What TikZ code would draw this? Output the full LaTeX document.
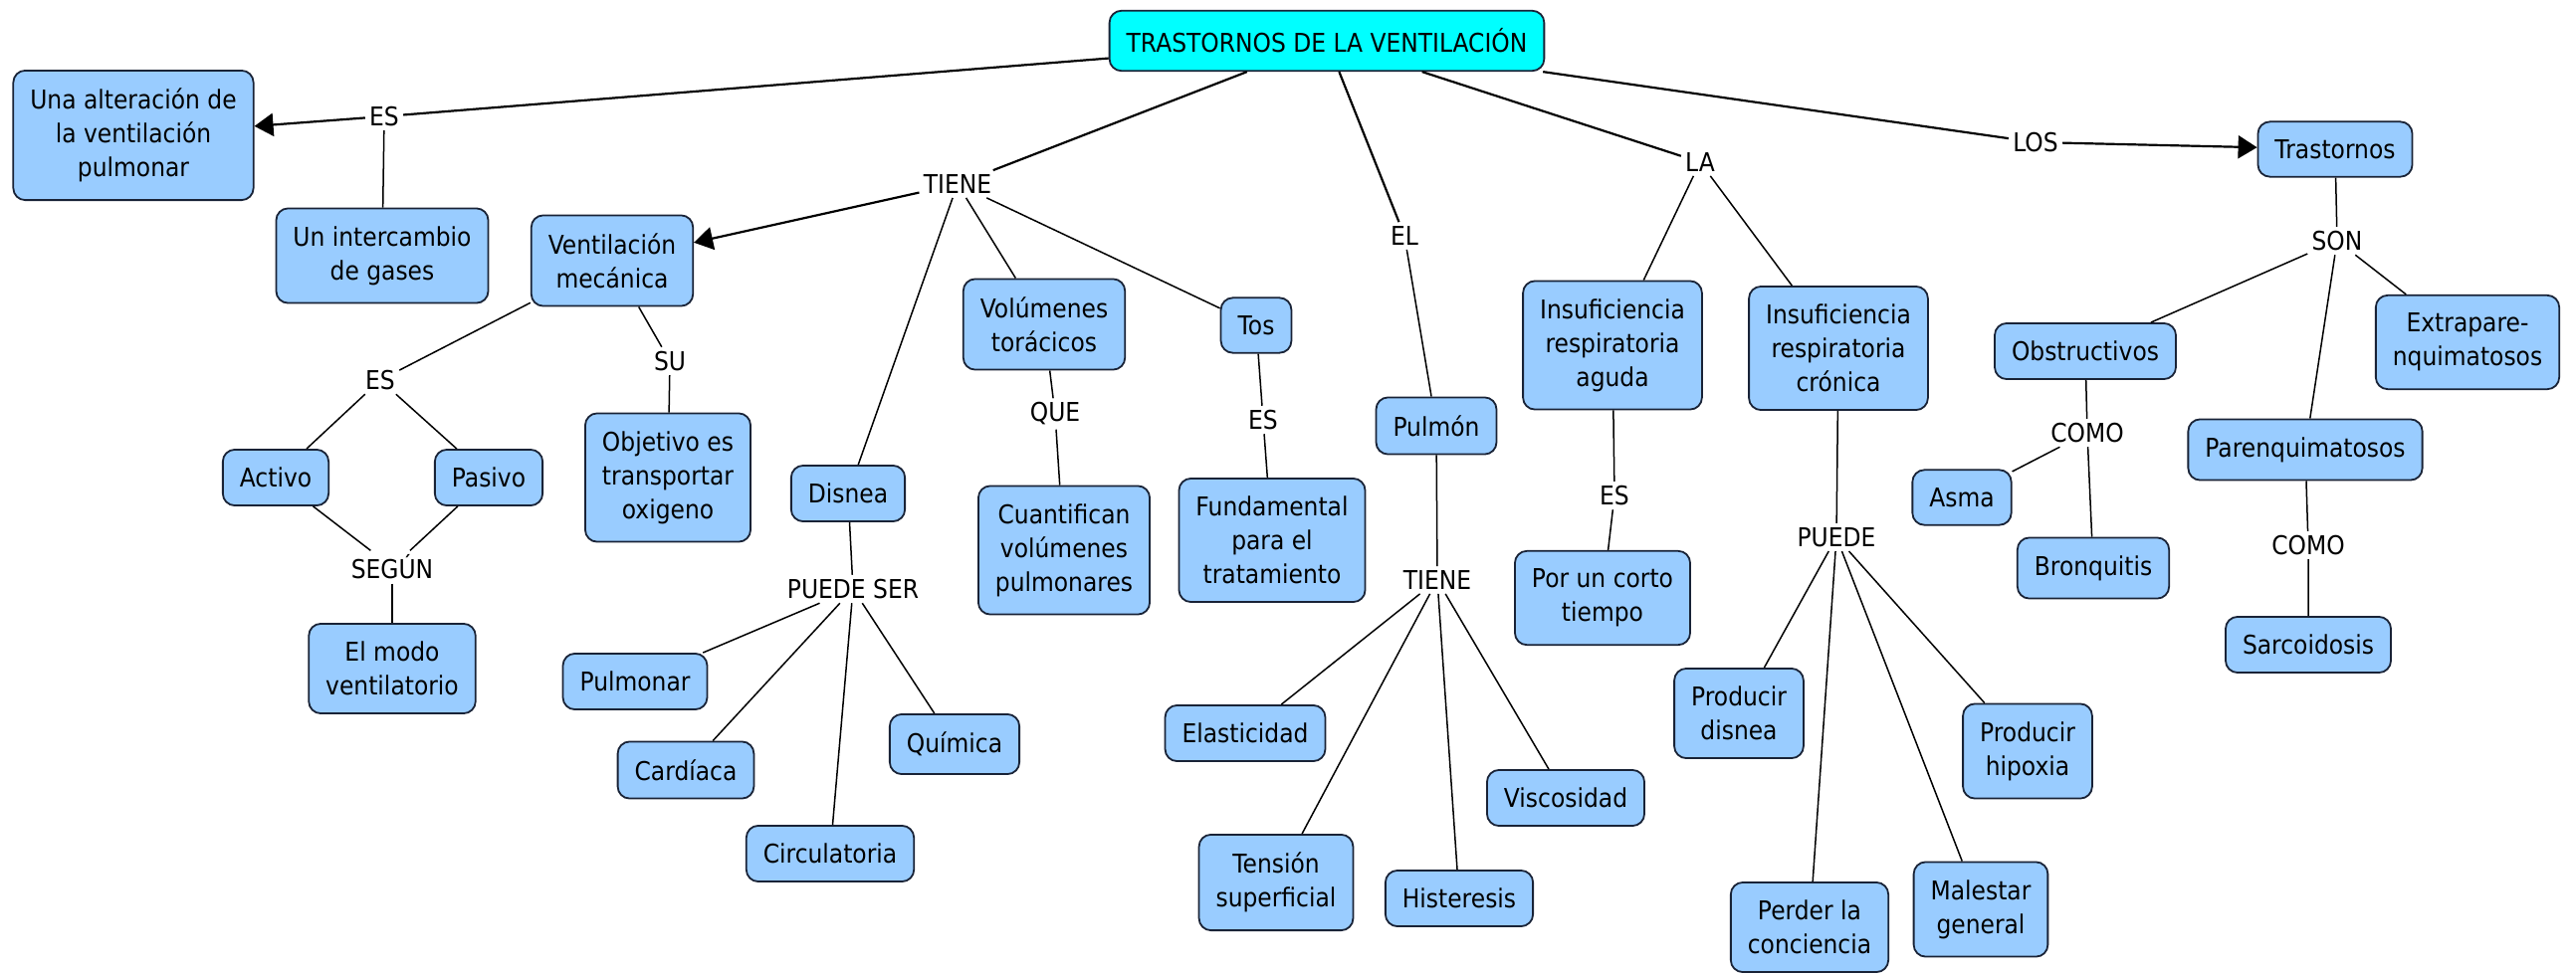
\documentclass[tikz,border=0pt]{standalone}
\usepackage{fontspec}
\setmainfont{DejaVu Sans}[FakeStretch=0.9]
\usepackage{tikz}
\usetikzlibrary{positioning, arrows.meta}
\usepackage{xcolor}

\definecolor{conceptblue}{RGB}{153,204,255}
\definecolor{titlecyan}{RGB}{0,255,255}
\definecolor{borderdark}{RGB}{25,35,55}

\begin{document}
\begin{tikzpicture}[x=0.5pt, y=-0.5pt,
            font=\fontsize{13}{17}\selectfont,
            concept/.style={draw=borderdark, line width=0.9pt, fill=conceptblue,
                rounded corners=6pt, align=center, inner xsep=8.5pt, inner ysep=9pt},
            link/.style={fill=white, inner sep=2pt},
            wire/.style={line width=0.75pt},
            mainwire/.style={line width=1.1pt},
            arrowed/.style={-{Triangle[length=9.5pt,width=11.5pt]}}]
            \useasboundingbox (0,0) rectangle (2588,980);

            \node[concept, fill=titlecyan] (tv) at (1333,41) {TRASTORNOS DE LA VENTILACIÓN};

            \node[concept] (alt) at (134,136) {Una alteración de\\la ventilación\\pulmonar};
            \node[concept] (inter) at (384,257) {Un intercambio\\de gases};
            \node[concept] (vm) at (615,262) {Ventilación\\mecánica};
            \node[concept] (act) at (277,480) {Activo};
            \node[concept] (pas) at (491,480) {Pasivo};
            \node[concept] (modo) at (394,672) {El modo\\ventilatorio};
            \node[concept] (obj) at (671,480) {Objetivo es\\transportar\\oxigeno};
            \node[concept] (dis) at (852,496) {Disnea};
            \node[concept] (pulmonar) at (638,685) {Pulmonar};
            \node[concept] (card) at (689,774) {Cardíaca};
            \node[concept] (circ) at (834,858) {Circulatoria};
            \node[concept] (quim) at (959,748) {Química};
            \node[concept] (vol) at (1049,326) {Volúmenes\\torácicos};
            \node[concept] (cuant) at (1069,553) {Cuantifican\\volúmenes\\pulmonares};
            \node[concept] (tos) at (1262,327) {Tos};
            \node[concept] (fund) at (1278,543) {Fundamental\\para el\\tratamiento};
            \node[concept] (pul) at (1443,428) {Pulmón};
            \node[concept] (elas) at (1251,737) {Elasticidad};
            \node[concept] (tens) at (1282,887) {Tensión\\superficial};
            \node[concept] (hist) at (1466,903) {Histeresis};
            \node[concept] (visc) at (1573,802) {Viscosidad};
            \node[concept] (ira) at (1620,347) {Insuficiencia\\respiratoria\\aguda};
            \node[concept] (corto) at (1610,601) {Por un corto\\tiempo};
            \node[concept] (irc) at (1847,350) {Insuficiencia\\respiratoria\\crónica};
            \node[concept] (pdis) at (1747,717) {Producir\\disnea};
            \node[concept] (phip) at (2037,755) {Producir\\hipoxia};
            \node[concept] (perd) at (1818,932) {Perder la\\conciencia};
            \node[concept] (mal) at (1990,914) {Malestar\\general};
            \node[concept] (tras) at (2346,150) {Trastornos};
            \node[concept] (obs) at (2095,353) {Obstructivos};
            \node[concept] (extra) at (2479,344) {Extrapare-\\nquimatosos};
            \node[concept] (paren) at (2316,452) {Parenquimatosos};
            \node[concept] (asma) at (1971,500) {Asma};
            \node[concept] (bron) at (2103,571) {Bronquitis};
            \node[concept] (sarc) at (2319,648) {Sarcoidosis};

            \node[link] (es1) at (386,117) {ES};
            \node[link] (tiene1) at (962,185) {TIENE};
            \node[link] (el) at (1411,237) {EL};
            \node[link] (la) at (1708,163) {LA};
            \node[link] (los) at (2045,143) {LOS};
            \node[link] (es2) at (382,382) {ES};
            \node[link] (su) at (673,363) {SU};
            \node[link] (segun) at (394,570) {SEGÚN};
            \node[link] (puedeser) at (857,592) {PUEDE SER};
            \node[link] (que) at (1060,416) {QUE};
            \node[link] (es3) at (1269,422) {ES};
            \node[link] (tiene2) at (1444,583) {TIENE};
            \node[link] (es4) at (1622,498) {ES};
            \node[link] (puede) at (1845,540) {PUEDE};
            \node[link] (son) at (2348,242) {SON};
            \node[link] (como1) at (2097,435) {COMO};
            \node[link] (como2) at (2319,548) {COMO};

            \draw[mainwire] (tv) -- (es1);
            \draw[mainwire] (tv) -- (tiene1);
            \draw[mainwire] (tv) -- (el);
            \draw[mainwire] (tv) -- (la);
            \draw[mainwire] (tv) -- (los);
            \draw[mainwire, arrowed] (es1) -- (alt);
            \draw[mainwire, arrowed] (tiene1) -- (vm);
            \draw[mainwire, arrowed] (los) -- (tras);

            \draw[wire] (es1) -- (inter);
            \draw[wire] (tiene1) -- (dis);
            \draw[wire] (tiene1) -- (vol);
            \draw[wire] (tiene1) -- (tos);
            \draw[wire] (vm) -- (es2);
            \draw[wire] (es2) -- (act);
            \draw[wire] (es2) -- (pas);
            \draw[wire] (act) -- (segun);
            \draw[wire] (pas) -- (segun);
            \draw[wire] (segun) -- (modo);
            \draw[wire] (vm) -- (su);
            \draw[wire] (su) -- (obj);
            \draw[wire] (dis) -- (puedeser);
            \draw[wire] (puedeser) -- (pulmonar);
            \draw[wire] (puedeser) -- (card);
            \draw[wire] (puedeser) -- (circ);
            \draw[wire] (puedeser) -- (quim);
            \draw[wire] (vol) -- (que) -- (cuant);
            \draw[wire] (tos) -- (es3) -- (fund);
            \draw[wire] (el) -- (pul);
            \draw[wire] (pul) -- (tiene2);
            \draw[wire] (tiene2) -- (elas);
            \draw[wire] (tiene2) -- (tens);
            \draw[wire] (tiene2) -- (hist);
            \draw[wire] (tiene2) -- (visc);
            \draw[wire] (la) -- (ira);
            \draw[wire] (la) -- (irc);
            \draw[wire] (ira) -- (es4) -- (corto);
            \draw[wire] (irc) -- (puede);
            \draw[wire] (puede) -- (pdis);
            \draw[wire] (puede) -- (perd);
            \draw[wire] (puede) -- (mal);
            \draw[wire] (puede) -- (phip);
            \draw[wire] (tras) -- (son);
            \draw[wire] (son) -- (obs);
            \draw[wire] (son) -- (paren);
            \draw[wire] (son) -- (extra);
            \draw[wire] (obs) -- (como1);
            \draw[wire] (como1) -- (asma);
            \draw[wire] (como1) -- (bron);
            \draw[wire] (paren) -- (como2) -- (sarc);
        \end{tikzpicture}
\end{document}
